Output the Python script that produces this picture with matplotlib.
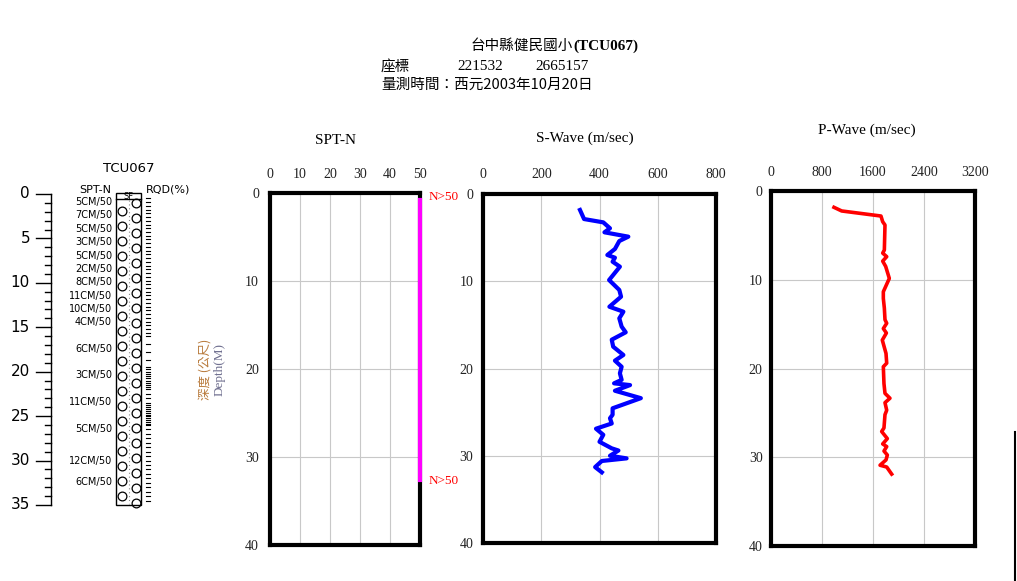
import numpy as np
import matplotlib
matplotlib.use("Agg")
import matplotlib.pyplot as plt
from matplotlib.lines import Line2D
from matplotlib.patches import Rectangle

# --- data ---
spt_depth_labels = [0.85, 2.4, 3.95, 5.45, 6.95, 8.45, 9.95, 11.45, 12.95, 14.45,
                    17.45, 20.4, 23.45, 26.45, 30.1, 32.4]
spt_labels = ["5CM/50", "7CM/50", "5CM/50", "3CM/50", "5CM/50", "2CM/50", "8CM/50",
              "11CM/50", "10CM/50", "4CM/50", "6CM/50", "3CM/50", "11CM/50",
              "5CM/50", "12CM/50", "6CM/50"]

spt_n = [50, 50]
spt_depth = [0.75, 32.6]

s_depth = [1.83, 2.87, 3.25, 3.93, 4.39, 4.89, 5.39, 6.30, 6.99, 7.30, 7.76, 8.33,
           9.86, 11.0, 11.77, 12.92, 13.49, 14.25, 15.2, 15.85, 16.7, 17.5, 18.45,
           19.1, 19.8, 20.55, 21.3, 21.7, 21.9, 22.55, 23.4, 24.56, 25.3, 25.7, 26.3,
           26.9, 27.6, 28.4, 29.15, 29.4, 30.0, 30.3, 30.6, 31.3, 31.9]
s_vel = [333, 347, 413, 436, 417, 499, 468, 453, 427, 453, 445, 470,
         433, 468, 474, 434, 482, 468, 476, 490, 442, 447, 482,
         453, 476, 470, 476, 450, 505, 453, 542, 445, 445, 436, 442,
         388, 413, 400, 442, 465, 436, 493, 408, 385, 408]

p_depth = [1.84, 2.25, 2.82, 3.46, 3.83, 6.65, 7.0, 7.4, 7.9, 8.5, 9.85, 11.35, 12.1,
           13.2, 14.5, 14.9, 15.5, 16.0, 16.8, 18.3, 19.4, 19.8, 21.7, 22.8, 23.35,
           23.85, 24.7, 25.2, 26.7, 27.1, 27.9, 28.5, 28.8, 29.3, 29.75, 30.3, 30.9,
           31.1, 31.9]
p_vel = [988, 1109, 1725, 1752, 1788, 1778, 1752, 1815, 1752, 1799, 1856, 1762, 1762,
         1778, 1788, 1815, 1762, 1810, 1746, 1804, 1815, 1762, 1772, 1788, 1866,
         1788, 1815, 1788, 1772, 1736, 1825, 1752, 1815, 1772, 1825, 1804, 1710,
         1815, 1893]

# RQD dash zones: (from, to, spacing)
rqd_zones = [(0.5, 16.0, 0.42), (16.0, 19.5, 0.9), (19.5, 22.0, 0.25),
             (22.0, 23.5, 0.5), (23.5, 26.0, 0.22), (26.0, 34.8, 0.5)]

W, H = 1017, 581
fig = plt.figure(figsize=(W / 100, H / 100), dpi=100)


def px(x, y):
    return x / W, 1 - y / H


serif = "Liberation Serif"
cjk = "Noto Sans CJK TC"

# --- header text ---
fig.text(*px(573, 46), "台中縣健民國小", family=cjk, fontsize=10.5, ha="right", va="center")
fig.text(*px(573, 46), "(TCU067)", family=serif, fontsize=11, weight="bold", ha="left", va="center")
fig.text(*px(381, 67), "座標", family=cjk, fontsize=10.5, ha="left", va="center")
fig.text(*px(457, 67), "221532", family=serif, fontsize=11, ha="left", va="center")
fig.text(*px(535, 67), "2665157", family=serif, fontsize=11, ha="left", va="center")
fig.text(*px(381, 85), "量測時間：西元2003年10月20日", family=cjk, fontsize=10.5, ha="left", va="center")

# --- left boring log column ---
lg = fig.add_axes([0, 1 - 520 / H, 240 / W, 370 / H])
lg.set_xlim(0, 240)
lg.set_ylim(36.69, -4.95)
lg.axis("off")

lg.plot([51, 51], [0, 35], color="black", lw=1)
for d in range(0, 36):
    x0 = 36 if d % 5 == 0 else 45
    lg.plot([x0, 51], [d, d], color="black", lw=1)
for d in range(0, 36, 5):
    lg.text(30, d, str(d), ha="right", va="center", fontsize=11, family="DejaVu Sans")

lg.text(129, -2.9, "TCU067", ha="center", va="center", fontsize=9.5)
lg.text(111, -0.5, "SPT-N", ha="right", va="center", fontsize=8)
lg.text(146, -0.5, "RQD(%)", ha="left", va="center", fontsize=8)

lg.add_patch(Rectangle((116, -0.15), 25, 35.15, fill=False, ec="black", lw=1))
lg.plot([116, 141], [0.6, 0.6], color="black", lw=1)
lg.text(128.5, 0.25, "SF", ha="center", va="center", fontsize=6)
lg.plot([129, 129], [0.7, 34.9], color="#888888", lw=0.8, ls=(0, (1, 2.5)))
left_c = np.arange(1.88, 34.6, 1.69)
right_c = np.arange(1.0, 34.9, 1.69)
lg.plot(np.full(len(left_c), 122), left_c, "o", mfc="none", mec="black", ms=6.3, mew=0.9)
lg.plot(np.full(len(right_c), 136), right_c, "o", mfc="none", mec="black", ms=6.3, mew=0.9)
for a, b, step in rqd_zones:
    for d in np.arange(a, b, step):
        lg.plot([146, 150], [d, d], color="black", lw=0.8)

for d, lab in zip(spt_depth_labels, spt_labels):
    lg.text(112, d, lab, ha="right", va="center", fontsize=7)


# --- depth panels ---
def depth_axes(left, top, right, bottom, xmax, xticks, ypad):
    ax = fig.add_axes([left / W, 1 - bottom / H, (right - left) / W, (bottom - top) / H])
    ax.set_xlim(0, xmax)
    ax.set_ylim(40, 0)
    ax.xaxis.tick_top()
    ax.set_xticks(xticks)
    ax.set_yticks([0, 10, 20, 30, 40])
    ax.grid(color="#c8c8c8", lw=0.8)
    for s in ax.spines.values():
        s.set_linewidth(3)
    ax.tick_params(axis="x", length=0, pad=9, labelsize=10, labelcolor="#222222")
    ax.tick_params(axis="y", length=0, pad=ypad, labelsize=10, labelcolor="#222222")
    for lab in ax.get_xticklabels() + ax.get_yticklabels():
        lab.set_family(serif)
    return ax


ax1 = depth_axes(270, 193, 420, 545, 50, [0, 10, 20, 30, 40, 50], 8)
ax1.plot(spt_n, spt_depth, color="#ff00ff", lw=3, clip_on=False, zorder=3)
for d in [0.45, 32.7]:
    ax1.annotate("N>50", (50, d), xytext=(6, 0), textcoords="offset points",
                 color="red", family=serif, fontsize=9.5, va="center", ha="left",
                 annotation_clip=False)
fig.text(*px(335, 140), "SPT-N", family=serif, fontsize=11, ha="center", va="center")
fig.text(*px(205, 369), "深度 (公尺)", family=cjk, fontsize=9, rotation=90,
         ha="center", va="center", color="#b87a3c")
fig.text(*px(220, 369), "Depth(M)", family=serif, fontsize=9.5, rotation=90,
         ha="center", va="center", color="#707090")

ax2 = depth_axes(483, 194, 716, 543, 800, [0, 200, 400, 600, 800], 7)
ax2.plot(s_vel, s_depth, color="#0000ff", lw=3, solid_joinstyle="round")
fig.text(*px(585, 138), "S-Wave (m/sec)", family=serif, fontsize=11, ha="center", va="center")

ax3 = depth_axes(771, 191, 975, 546, 3200, [0, 800, 1600, 2400, 3200], 6)
ax3.plot(p_vel, p_depth, color="#ff0000", lw=2.6, solid_joinstyle="round")
fig.text(*px(867, 130), "P-Wave (m/sec)", family=serif, fontsize=11, ha="center", va="center")

fig.add_artist(Line2D([1015 / W, 1015 / W], [0, 1 - 432 / H], color="black", lw=1.5))

fig.savefig("out.png", dpi=100)
